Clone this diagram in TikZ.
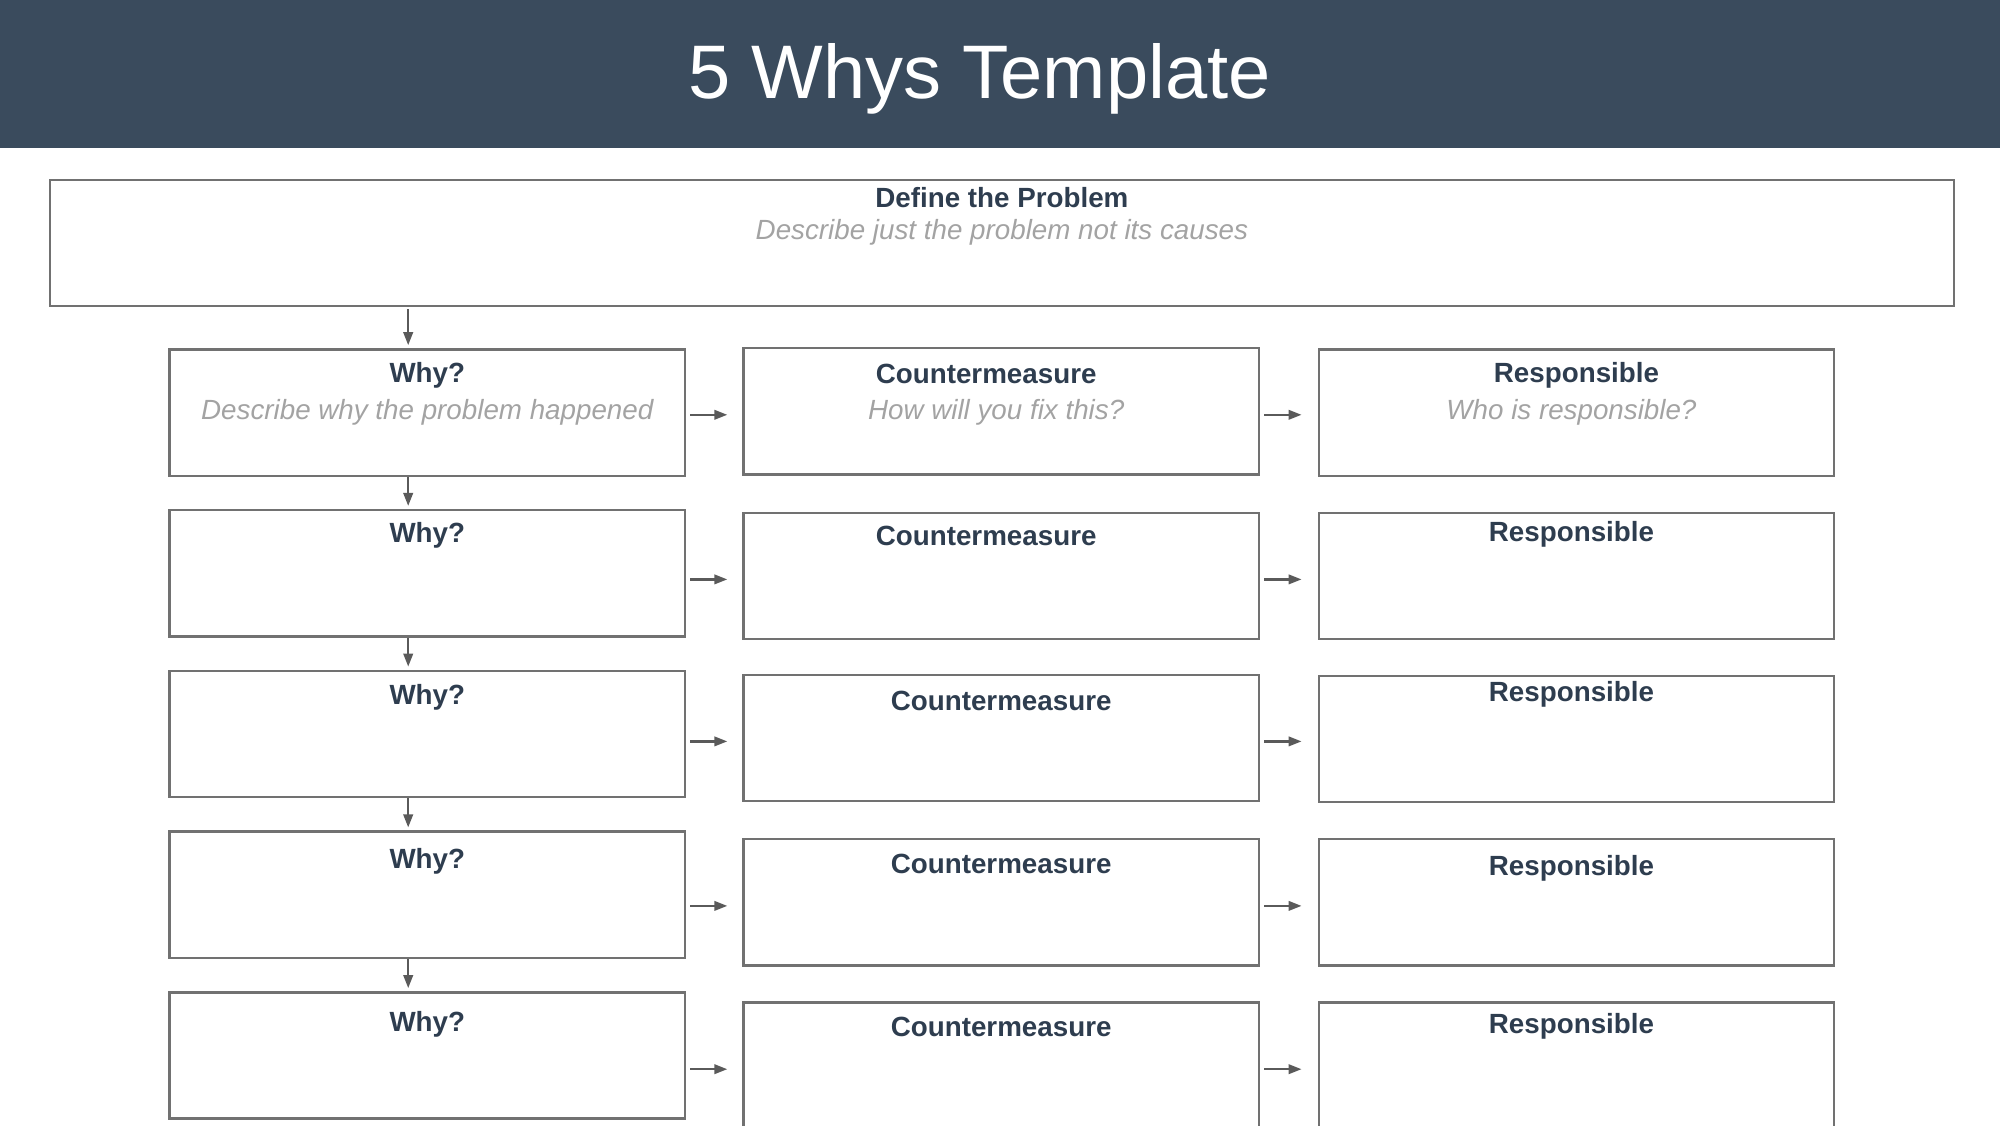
\documentclass[tikz,border=0pt]{standalone}
\usepackage{fontspec}
\setmainfont{Liberation Sans}
\usetikzlibrary{arrows.meta}
\definecolor{slate}{HTML}{3A4B5D}
\definecolor{ink}{HTML}{2E3D4F}
\definecolor{hint}{HTML}{A3A3A3}
\definecolor{frame}{HTML}{717171}
\definecolor{arrowgray}{HTML}{5A5A5A}
\begin{document}
\begin{tikzpicture}[
    box/.style={draw=frame, line width=0.7pt, rectangle, inner sep=0pt,
      minimum width=5.153cm, minimum height=1.263cm, anchor=north west},
    head/.style={text=ink, font=\fontsize{7.9}{9}\selectfont\bfseries, inner sep=0pt},
    hinttext/.style={text=hint, font=\fontsize{7.9}{9}\selectfont\itshape, inner sep=0pt},
    flow/.style={draw=arrowgray, line width=0.65pt, -{Triangle[length=1.3mm,width=0.95mm]}}
  ]
    \useasboundingbox (0,0) rectangle (20,-11.25);
    \clip (0,0) rectangle (20,-11.25);

    % title bar
    \fill[slate] (0,0) rectangle (20,-1.48);
    \node[text=white, font=\fontsize{21.6}{24}\selectfont, inner sep=0pt] (title) at (9.796,-0.79) {5 Whys Template};

    % problem
    \node[box, minimum width=19.043cm] (problem) at (0.485,-1.786) {};
    \node[head] (problemhead) at ([yshift=-0.19cm]problem.north) {Define the Problem};
    \node[hinttext] (problemhint) at ([yshift=-0.535cm]problem.north) {Describe just the problem not its causes};

    % why column
    \node[box] (why1) at (1.684,-3.482) {};
    \node[box] (why2) at (1.684,-5.089) {};
    \node[box] (why3) at (1.684,-6.696) {};
    \node[box] (why4) at (1.684,-8.304) {};
    \node[box] (why5) at (1.684,-9.911) {};
    \node[head] (whyhead1) at ([yshift=-0.27cm]why1.north) {Why?};
    \node[head] (whyhead2) at ([yshift=-0.26cm]why2.north) {Why?};
    \node[head] (whyhead3) at ([yshift=-0.28cm]why3.north) {Why?};
    \node[head] (whyhead4) at ([yshift=-0.305cm]why4.north) {Why?};
    \node[head] (whyhead5) at ([yshift=-0.33cm]why5.north) {Why?};
    \node[hinttext] (whyhint) at ([yshift=-0.64cm]why1.north) {Describe why the problem happened};

    % countermeasure column
    \node[box] (cm1) at (7.423,-3.469) {};
    \node[box] (cm2) at (7.423,-5.115) {};
    \node[box] (cm3) at (7.423,-6.735) {};
    \node[box] (cm4) at (7.423,-8.380) {};
    \node[box] (cm5) at (7.423,-10.013) {};
    \node[head] (cmhead1) at ([xshift=-0.15cm,yshift=-0.27cm]cm1.north) {Countermeasure};
    \node[head] (cmhead2) at ([xshift=-0.15cm,yshift=-0.245cm]cm2.north) {Countermeasure};
    \node[head] (cmhead3) at ([yshift=-0.27cm]cm3.north) {Countermeasure};
    \node[head] (cmhead4) at ([yshift=-0.255cm]cm4.north) {Countermeasure};
    \node[head] (cmhead5) at ([yshift=-0.255cm]cm5.north) {Countermeasure};
    \node[hinttext] (cmhint) at ([xshift=-0.05cm,yshift=-0.65cm]cm1.north) {How will you fix this?};

    % responsible column
    \node[box] (resp1) at (13.176,-3.482) {};
    \node[box] (resp2) at (13.176,-5.115) {};
    \node[box] (resp3) at (13.176,-6.747) {};
    \node[box] (resp4) at (13.176,-8.380) {};
    \node[box] (resp5) at (13.176,-10.013) {};
    \node[head] (resphead1) at ([yshift=-0.27cm]resp1.north) {Responsible};
    \node[head] (resphead2) at ([xshift=-0.05cm,yshift=-0.225cm]resp2.north) {Responsible};
    \node[head] (resphead3) at ([xshift=-0.05cm,yshift=-0.2cm]resp3.north) {Responsible};
    \node[head] (resphead4) at ([xshift=-0.05cm,yshift=-0.3cm]resp4.north) {Responsible};
    \node[head] (resphead5) at ([xshift=-0.05cm,yshift=-0.25cm]resp5.north) {Responsible};
    \node[hinttext] (resphint) at ([xshift=-0.05cm,yshift=-0.64cm]resp1.north) {Who is responsible?};

    % down arrows
    \coordinate (spine) at (4.082,0);
    \draw[flow, shorten <=0.02cm, shorten >=0.03cm] (problem.south -| spine) -- (why1.north -| spine);
    \draw[flow, shorten >=0.03cm] (why1.south -| spine) -- (why2.north -| spine);
    \draw[flow, shorten >=0.03cm] (why2.south -| spine) -- (why3.north -| spine);
    \draw[flow, shorten >=0.03cm] (why3.south -| spine) -- (why4.north -| spine);
    \draw[flow, shorten >=0.03cm] (why4.south -| spine) -- (why5.north -| spine);

    % side arrows
    \coordinate (row1) at ([yshift=-0.035cm]cm1.west);
    \coordinate (row2) at ([yshift=-0.035cm]cm2.west);
    \coordinate (row3) at ([yshift=-0.035cm]cm3.west);
    \coordinate (row4) at ([yshift=-0.035cm]cm4.west);
    \coordinate (row5) at ([yshift=-0.035cm]cm5.west);
    \draw[flow, shorten <=0.04cm, shorten >=0.15cm] (why1.east |- row1) -- (row1);
    \draw[flow, shorten <=0.04cm, shorten >=0.15cm] (why2.east |- row2) -- (row2);
    \draw[flow, shorten <=0.04cm, shorten >=0.15cm] (why3.east |- row3) -- (row3);
    \draw[flow, shorten <=0.04cm, shorten >=0.15cm] (why4.east |- row4) -- (row4);
    \draw[flow, shorten <=0.04cm, shorten >=0.15cm] (why5.east |- row5) -- (row5);
    \draw[flow, shorten <=0.04cm, shorten >=0.16cm] (cm1.east |- row1) -- (resp1.west |- row1);
    \draw[flow, shorten <=0.04cm, shorten >=0.16cm] (cm2.east |- row2) -- (resp2.west |- row2);
    \draw[flow, shorten <=0.04cm, shorten >=0.16cm] (cm3.east |- row3) -- (resp3.west |- row3);
    \draw[flow, shorten <=0.04cm, shorten >=0.16cm] (cm4.east |- row4) -- (resp4.west |- row4);
    \draw[flow, shorten <=0.04cm, shorten >=0.16cm] (cm5.east |- row5) -- (resp5.west |- row5);
\end{tikzpicture}
\end{document}
